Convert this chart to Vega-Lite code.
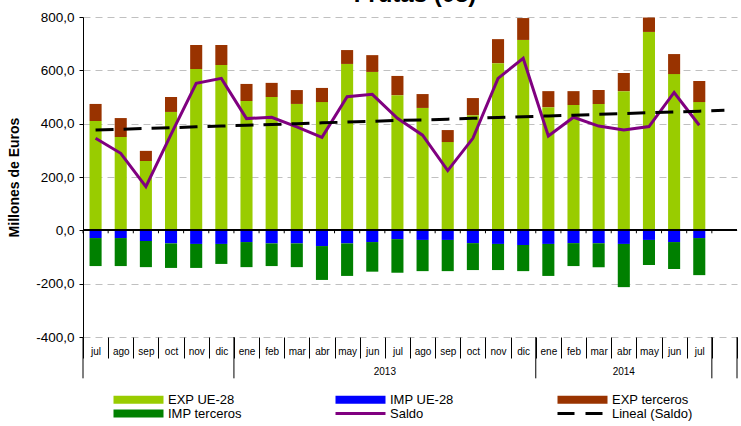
{
  "$schema": "https://vega.github.io/schema/vega-lite/v6.json",
  "width": 654,
  "height": 320,
  "autosize": {"type": "none"},
  "padding": {"left": 83, "top": 17, "right": 4, "bottom": 89},
  "background": "white",
  "config": {
    "font": "Liberation Sans",
    "view": {"stroke": null},
    "axisX": {"orient": "bottom", "labelExpr": "split(datum.label, '|')[0]", "tickBand": "extent", "tickSize": 21, "tickColor": "black", "tickWidth": 1, "domain": false, "grid": false, "labelFontSize": 10, "labelFont": "Liberation Sans", "labelColor": "black", "labelPadding": -7, "labelBaseline": "middle", "labelAngle": 0, "title": null}
  },
  "title": {"text": "Frutas (08)", "fontSize": 24, "font": "Liberation Sans", "fontWeight": "bold", "color": "black", "anchor": "middle", "baseline": "alphabetic", "offset": 0, "dy": 16, "dx": 5},
  "datasets": {
    "main": [
      {"k": "jul|2012", "EXP UE-28": 410, "EXP terceros": 64, "IMP UE-28": -29, "IMP terceros": -105, "saldo": 345, "lineal": 376},
      {"k": "ago|2012", "EXP UE-28": 350, "EXP terceros": 71, "IMP UE-28": -29, "IMP terceros": -105, "saldo": 289, "lineal": 379},
      {"k": "sep|2012", "EXP UE-28": 260, "EXP terceros": 38, "IMP UE-28": -40, "IMP terceros": -98, "saldo": 164, "lineal": 382},
      {"k": "oct|2012", "EXP UE-28": 444, "EXP terceros": 56, "IMP UE-28": -49, "IMP terceros": -92, "saldo": 360, "lineal": 385},
      {"k": "nov|2012", "EXP UE-28": 605, "EXP terceros": 90, "IMP UE-28": -51, "IMP terceros": -90, "saldo": 551, "lineal": 388},
      {"k": "dic|2012", "EXP UE-28": 620, "EXP terceros": 75, "IMP UE-28": -51, "IMP terceros": -75, "saldo": 570, "lineal": 391},
      {"k": "ene|2013", "EXP UE-28": 485, "EXP terceros": 64, "IMP UE-28": -44, "IMP terceros": -94, "saldo": 419, "lineal": 394},
      {"k": "feb|2013", "EXP UE-28": 500, "EXP terceros": 53, "IMP UE-28": -49, "IMP terceros": -85, "saldo": 424, "lineal": 397},
      {"k": "mar|2013", "EXP UE-28": 474, "EXP terceros": 52, "IMP UE-28": -49, "IMP terceros": -89, "saldo": 388, "lineal": 400},
      {"k": "abr|2013", "EXP UE-28": 481, "EXP terceros": 53, "IMP UE-28": -59, "IMP terceros": -127, "saldo": 349, "lineal": 403},
      {"k": "may|2013", "EXP UE-28": 624, "EXP terceros": 52, "IMP UE-28": -49, "IMP terceros": -122, "saldo": 501, "lineal": 406},
      {"k": "jun|2013", "EXP UE-28": 594, "EXP terceros": 63, "IMP UE-28": -44, "IMP terceros": -111, "saldo": 510, "lineal": 409},
      {"k": "jul|2013", "EXP UE-28": 507, "EXP terceros": 72, "IMP UE-28": -33, "IMP terceros": -126, "saldo": 420, "lineal": 412},
      {"k": "ago|2013", "EXP UE-28": 459, "EXP terceros": 52, "IMP UE-28": -36, "IMP terceros": -117, "saldo": 357, "lineal": 414},
      {"k": "sep|2013", "EXP UE-28": 331, "EXP terceros": 45, "IMP UE-28": -36, "IMP terceros": -117, "saldo": 224, "lineal": 417},
      {"k": "oct|2013", "EXP UE-28": 432, "EXP terceros": 64, "IMP UE-28": -48, "IMP terceros": -101, "saldo": 345, "lineal": 420},
      {"k": "nov|2013", "EXP UE-28": 627, "EXP terceros": 90, "IMP UE-28": -51, "IMP terceros": -98, "saldo": 570, "lineal": 423},
      {"k": "dic|2013", "EXP UE-28": 714, "EXP terceros": 82, "IMP UE-28": -55, "IMP terceros": -98, "saldo": 645, "lineal": 426},
      {"k": "ene|2014", "EXP UE-28": 462, "EXP terceros": 60, "IMP UE-28": -51, "IMP terceros": -120, "saldo": 354, "lineal": 429},
      {"k": "feb|2014", "EXP UE-28": 470, "EXP terceros": 52, "IMP UE-28": -48, "IMP terceros": -86, "saldo": 424, "lineal": 432},
      {"k": "mar|2014", "EXP UE-28": 474, "EXP terceros": 52, "IMP UE-28": -48, "IMP terceros": -90, "saldo": 391, "lineal": 435},
      {"k": "abr|2014", "EXP UE-28": 522, "EXP terceros": 68, "IMP UE-28": -51, "IMP terceros": -162, "saldo": 376, "lineal": 438},
      {"k": "may|2014", "EXP UE-28": 744, "EXP terceros": 54, "IMP UE-28": -36, "IMP terceros": -94, "saldo": 389, "lineal": 441},
      {"k": "jun|2014", "EXP UE-28": 586, "EXP terceros": 75, "IMP UE-28": -44, "IMP terceros": -101, "saldo": 517, "lineal": 444},
      {"k": "jul|2014", "EXP UE-28": 481, "EXP terceros": 79, "IMP UE-28": -29, "IMP terceros": -139, "saldo": 394, "lineal": 447},
      {"k": "|2014", "lineal": 450}
    ],
    "seps": [{"k": "jul|2012"}, {"k": "ene|2013"}, {"k": "ene|2014"}, {"k": "|2014"}],
    "sepEnd": [{"k": "|2014"}],
    "year2013": [{"k": "jul|2013", "t": "2013"}],
    "year2014": [{"k": "abr|2014", "t": "2014"}]
  },
  "data": {"name": "main"},
  "layer": [
    {
      "transform": [{"fold": ["EXP UE-28", "EXP terceros", "IMP UE-28", "IMP terceros"], "as": ["serie", "valor"]}],
      "mark": {"type": "bar", "width": {"band": 0.48}},
      "encoding": {
        "x": {
          "field": "k", "type": "nominal", "title": null,
          "scale": {"domain": ["jul|2012","ago|2012","sep|2012","oct|2012","nov|2012","dic|2012","ene|2013","feb|2013","mar|2013","abr|2013","may|2013","jun|2013","jul|2013","ago|2013","sep|2013","oct|2013","nov|2013","dic|2013","ene|2014","feb|2014","mar|2014","abr|2014","may|2014","jun|2014","jul|2014","|2014"], "paddingInner": 0, "paddingOuter": 0}
        },
        "y": {
          "field": "valor", "type": "quantitative", "stack": "zero",
          "scale": {"domain": [-400, 800], "nice": false, "zero": false},
          "axis": {"values": [-400, -200, 0, 200, 400, 600, 800], "labelExpr": "replace(replace(format(datum.value, '.1f'), '.', ','), '\u2212', '-')", "labelFontSize": 13.5, "labelFont": "Liberation Sans", "labelColor": "black", "tickSize": 4, "tickColor": "black", "labelPadding": 5, "domainColor": "black", "domainWidth": 1, "grid": true, "gridDash": [7, 5], "gridColor": "#c0c0c0", "title": "Millones de Euros", "titleFontSize": 14, "titleFont": "Liberation Sans", "titleFontWeight": "bold", "titleColor": "black", "titlePadding": 14}
        },
        "color": {
          "field": "serie", "type": "nominal",
          "scale": {"domain": ["EXP UE-28", "IMP UE-28", "EXP terceros", "IMP terceros", "Saldo", "Lineal (Saldo)"], "range": ["#99cc00", "#0000ff", "#993300", "#008000", "#800080", "#000000"]},
          "legend": {
            "orient": "none", "legendX": 28, "legendY": 376, "columns": 3, "direction": "horizontal", "title": null,
            "symbolSize": 64, "labelFontSize": 13, "labelFont": "Liberation Sans", "labelColor": "black", "labelOffset": 44, "columnPadding": 80, "rowPadding": -1, "padding": 0, "gridAlign": "all", "labelLimit": 200,
            "encode": {"symbols": {"update": {
              "shape": {"signal": "datum.value === 'Saldo' || datum.value === 'Lineal (Saldo)' ? 'M-1,0H11.5' : 'M-1,-1H11.5V1H-1Z'"},
              "stroke": {"signal": "datum.value === 'Saldo' || datum.value === 'Lineal (Saldo)' ? scale('color', datum.value) : 'transparent'"},
              "strokeWidth": {"signal": "datum.value === 'Saldo' || datum.value === 'Lineal (Saldo)' ? 3 : 0"},
              "strokeDash": {"signal": "datum.value === 'Lineal (Saldo)' ? [17, 11] : [1, 0]"},
              "fill": {"signal": "datum.value === 'Saldo' || datum.value === 'Lineal (Saldo)' ? 'transparent' : scale('color', datum.value)"},
              "opacity": {"value": 1}
            }}}
          }
        },
        "order": {"field": "serie", "sort": "ascending"}
      }
    },
    {
      "mark": {"type": "rule", "color": "black", "strokeWidth": 1},
      "encoding": {"y": {"datum": 0, "type": "quantitative", "scale": {"domain": [-400, 800], "nice": false}}}
    },
    {
      "mark": {"type": "rule", "color": "black", "strokeWidth": 1},
      "encoding": {
        "x": {"field": "k", "type": "nominal", "bandPosition": 0, "title": null},
        "y": {"datum": 0, "type": "quantitative", "scale": {"domain": [-400, 800], "nice": false}},
        "y2": {"datum": -11}
      }
    },
    {
      "data": {"name": "seps"},
      "mark": {"type": "rule", "color": "black", "strokeWidth": 1},
      "encoding": {
        "x": {"field": "k", "type": "nominal", "bandPosition": 0, "title": null},
        "y": {"datum": -400, "type": "quantitative", "scale": {"domain": [-400, 800], "nice": false}},
        "y2": {"datum": -555}
      }
    },
    {
      "data": {"name": "sepEnd"},
      "mark": {"type": "rule", "color": "black", "strokeWidth": 1},
      "encoding": {
        "x": {"field": "k", "type": "nominal", "bandPosition": 1, "title": null},
        "y": {"datum": -400, "type": "quantitative", "scale": {"domain": [-400, 800], "nice": false}},
        "y2": {"datum": -555}
      }
    },
    {
      "data": {"name": "year2013"},
      "mark": {"type": "text", "fontSize": 10, "font": "Liberation Sans", "color": "black", "baseline": "middle", "dy": 35},
      "encoding": {
        "x": {"field": "k", "type": "nominal", "bandPosition": 0, "title": null},
        "y": {"datum": -400, "type": "quantitative", "scale": {"domain": [-400, 800], "nice": false}},
        "text": {"field": "t"}
      }
    },
    {
      "data": {"name": "year2014"},
      "mark": {"type": "text", "fontSize": 10, "font": "Liberation Sans", "color": "black", "baseline": "middle", "dy": 35},
      "encoding": {
        "x": {"field": "k", "type": "nominal", "bandPosition": 0.5, "title": null},
        "y": {"datum": -400, "type": "quantitative", "scale": {"domain": [-400, 800], "nice": false}},
        "text": {"field": "t"}
      }
    },
    {
      "mark": {"type": "line", "strokeWidth": 3},
      "encoding": {
        "x": {"field": "k", "type": "nominal", "title": null},
        "y": {"field": "saldo", "type": "quantitative", "scale": {"domain": [-400, 800], "nice": false}},
        "color": {"datum": "Saldo"}
      }
    },
    {
      "mark": {"type": "line", "strokeWidth": 3, "strokeDash": [18, 10]},
      "encoding": {
        "x": {"field": "k", "type": "nominal", "title": null},
        "y": {"field": "lineal", "type": "quantitative", "scale": {"domain": [-400, 800], "nice": false}},
        "color": {"datum": "Lineal (Saldo)"}
      }
    }
  ]
}
